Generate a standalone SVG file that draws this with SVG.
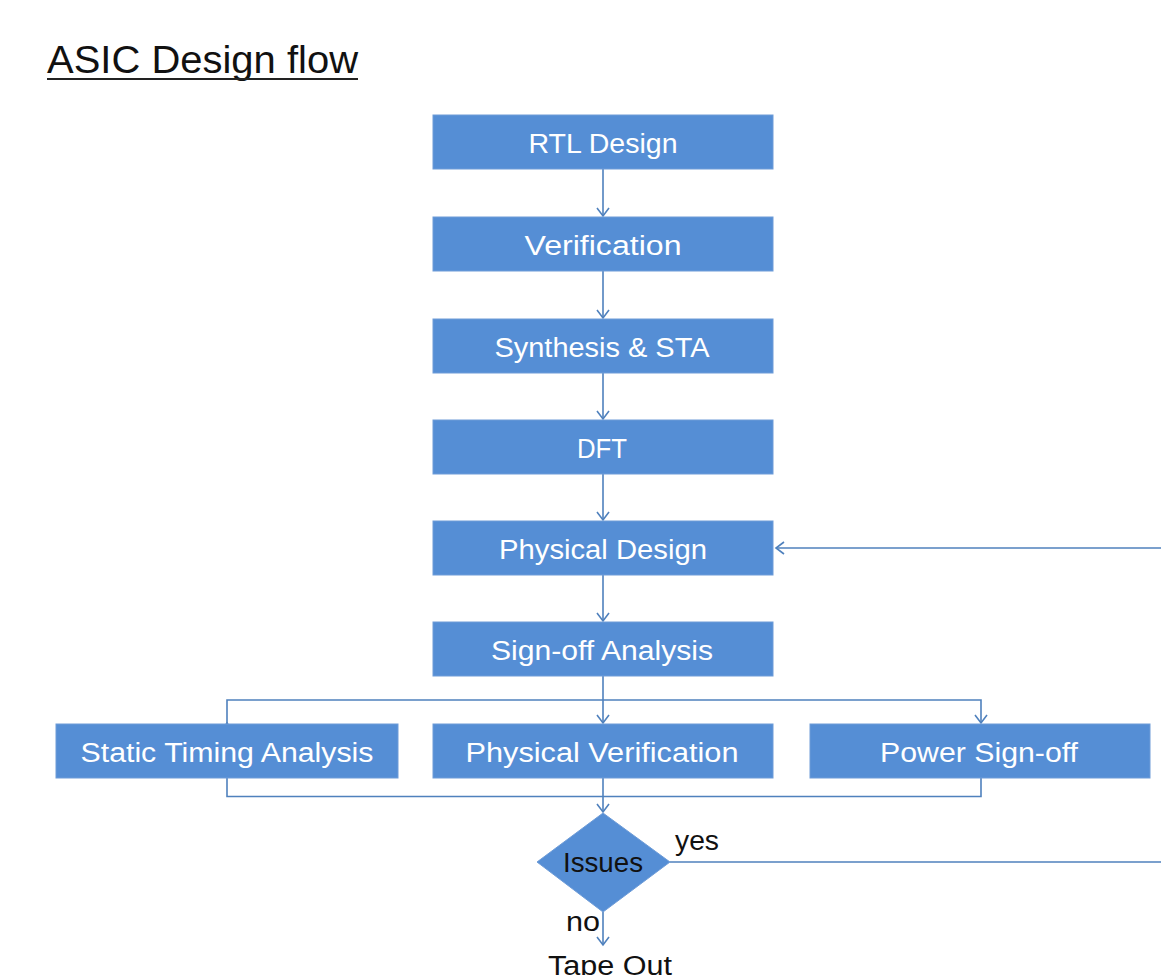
<svg xmlns="http://www.w3.org/2000/svg" width="1161" height="975" viewBox="0 0 1161 975">
<style>
.box{fill:#558ED5;stroke:#6E9CD8;stroke-width:1}
.lbl{font-family:"Liberation Sans",Arial,sans-serif;font-size:27px;fill:#ffffff;text-anchor:middle}
.dark{font-family:"Liberation Sans",Arial,sans-serif;font-size:27px;fill:#111111}
.con{fill:none;stroke:#4F81BD;stroke-width:1.6}
</style>
<defs>
<marker id="arr" markerUnits="userSpaceOnUse" markerWidth="20" markerHeight="20" refX="10" refY="10" orient="auto">
<path d="M2,4 L10,10 L2,16" fill="none" stroke="#4F81BD" stroke-width="1.6"/>
</marker>
</defs>
<rect width="1161" height="975" fill="#ffffff"/>
<g id="title">
<text x="47" y="73" font-family="Liberation Sans,Arial,sans-serif" font-size="39" fill="#111111" textLength="311" lengthAdjust="spacingAndGlyphs">ASIC Design flow</text>
<line x1="47" y1="79" x2="358" y2="79" stroke="#222222" stroke-width="2"/>
</g>
<g id="connectors">
<line class="con" x1="603" y1="169" x2="603" y2="216" marker-end="url(#arr)"/>
<line class="con" x1="603" y1="271" x2="603" y2="318" marker-end="url(#arr)"/>
<line class="con" x1="603" y1="373" x2="603" y2="419" marker-end="url(#arr)"/>
<line class="con" x1="603" y1="474" x2="603" y2="520" marker-end="url(#arr)"/>
<line class="con" x1="603" y1="575" x2="603" y2="621" marker-end="url(#arr)"/>
<line class="con" x1="603" y1="676" x2="603" y2="723" marker-end="url(#arr)"/>
<polyline class="con" points="227,723 227,700 981,700 981,723" marker-start="url(#arr)" marker-end="url(#arr)"/>
<polyline class="con" points="227,778 227,796.5 981,796.5 981,778"/>
<line class="con" x1="603" y1="778" x2="603" y2="812" marker-end="url(#arr)"/>
<line class="con" x1="603" y1="912" x2="603" y2="945" marker-end="url(#arr)"/>
<line class="con" x1="670" y1="862" x2="1161" y2="862"/>
<line class="con" x1="1161" y1="548" x2="776" y2="548" marker-end="url(#arr)"/>
</g>
<g id="rtl"><rect class="box" x="433" y="115" width="340" height="54"/><text class="lbl" x="603" y="153" textLength="149" lengthAdjust="spacingAndGlyphs">RTL Design</text></g>
<g id="verification"><rect class="box" x="433" y="217" width="340" height="54"/><text class="lbl" x="603" y="255" textLength="157" lengthAdjust="spacingAndGlyphs">Verification</text></g>
<g id="synthesis"><rect class="box" x="433" y="319" width="340" height="54"/><text class="lbl" x="602" y="357" textLength="215" lengthAdjust="spacingAndGlyphs">Synthesis  &amp; STA</text></g>
<g id="dft"><rect class="box" x="433" y="420" width="340" height="54"/><text class="lbl" x="602" y="458" textLength="50" lengthAdjust="spacingAndGlyphs">DFT</text></g>
<g id="physical-design"><rect class="box" x="433" y="521" width="340" height="54"/><text class="lbl" x="603" y="559" textLength="208" lengthAdjust="spacingAndGlyphs">Physical Design</text></g>
<g id="signoff"><rect class="box" x="433" y="622" width="340" height="54"/><text class="lbl" x="602" y="660" textLength="222" lengthAdjust="spacingAndGlyphs">Sign-off Analysis</text></g>
<g id="sta"><rect class="box" x="56" y="724" width="342" height="54"/><text class="lbl" x="227" y="762" textLength="293" lengthAdjust="spacingAndGlyphs">Static Timing Analysis</text></g>
<g id="pv"><rect class="box" x="433" y="724" width="340" height="54"/><text class="lbl" x="602" y="762" textLength="273" lengthAdjust="spacingAndGlyphs">Physical Verification</text></g>
<g id="power"><rect class="box" x="810" y="724" width="340" height="54"/><text class="lbl" x="979" y="762" textLength="198" lengthAdjust="spacingAndGlyphs">Power Sign-off</text></g>
<g id="issues"><polygon points="603,813 670,862 603,912 537,862" fill="#558ED5" stroke="#6E9CD8" stroke-width="1"/><text class="dark" x="563" y="872" textLength="80" lengthAdjust="spacingAndGlyphs">Issues</text></g>
<g id="yes-label"><text class="dark" x="675" y="850" textLength="44" lengthAdjust="spacingAndGlyphs">yes</text></g>
<g id="no-label"><text class="dark" x="566" y="931" textLength="34" lengthAdjust="spacingAndGlyphs">no</text></g>
<g id="tapeout"><text class="dark" x="548" y="975" textLength="124" lengthAdjust="spacingAndGlyphs">Tape Out</text></g>
</svg>
